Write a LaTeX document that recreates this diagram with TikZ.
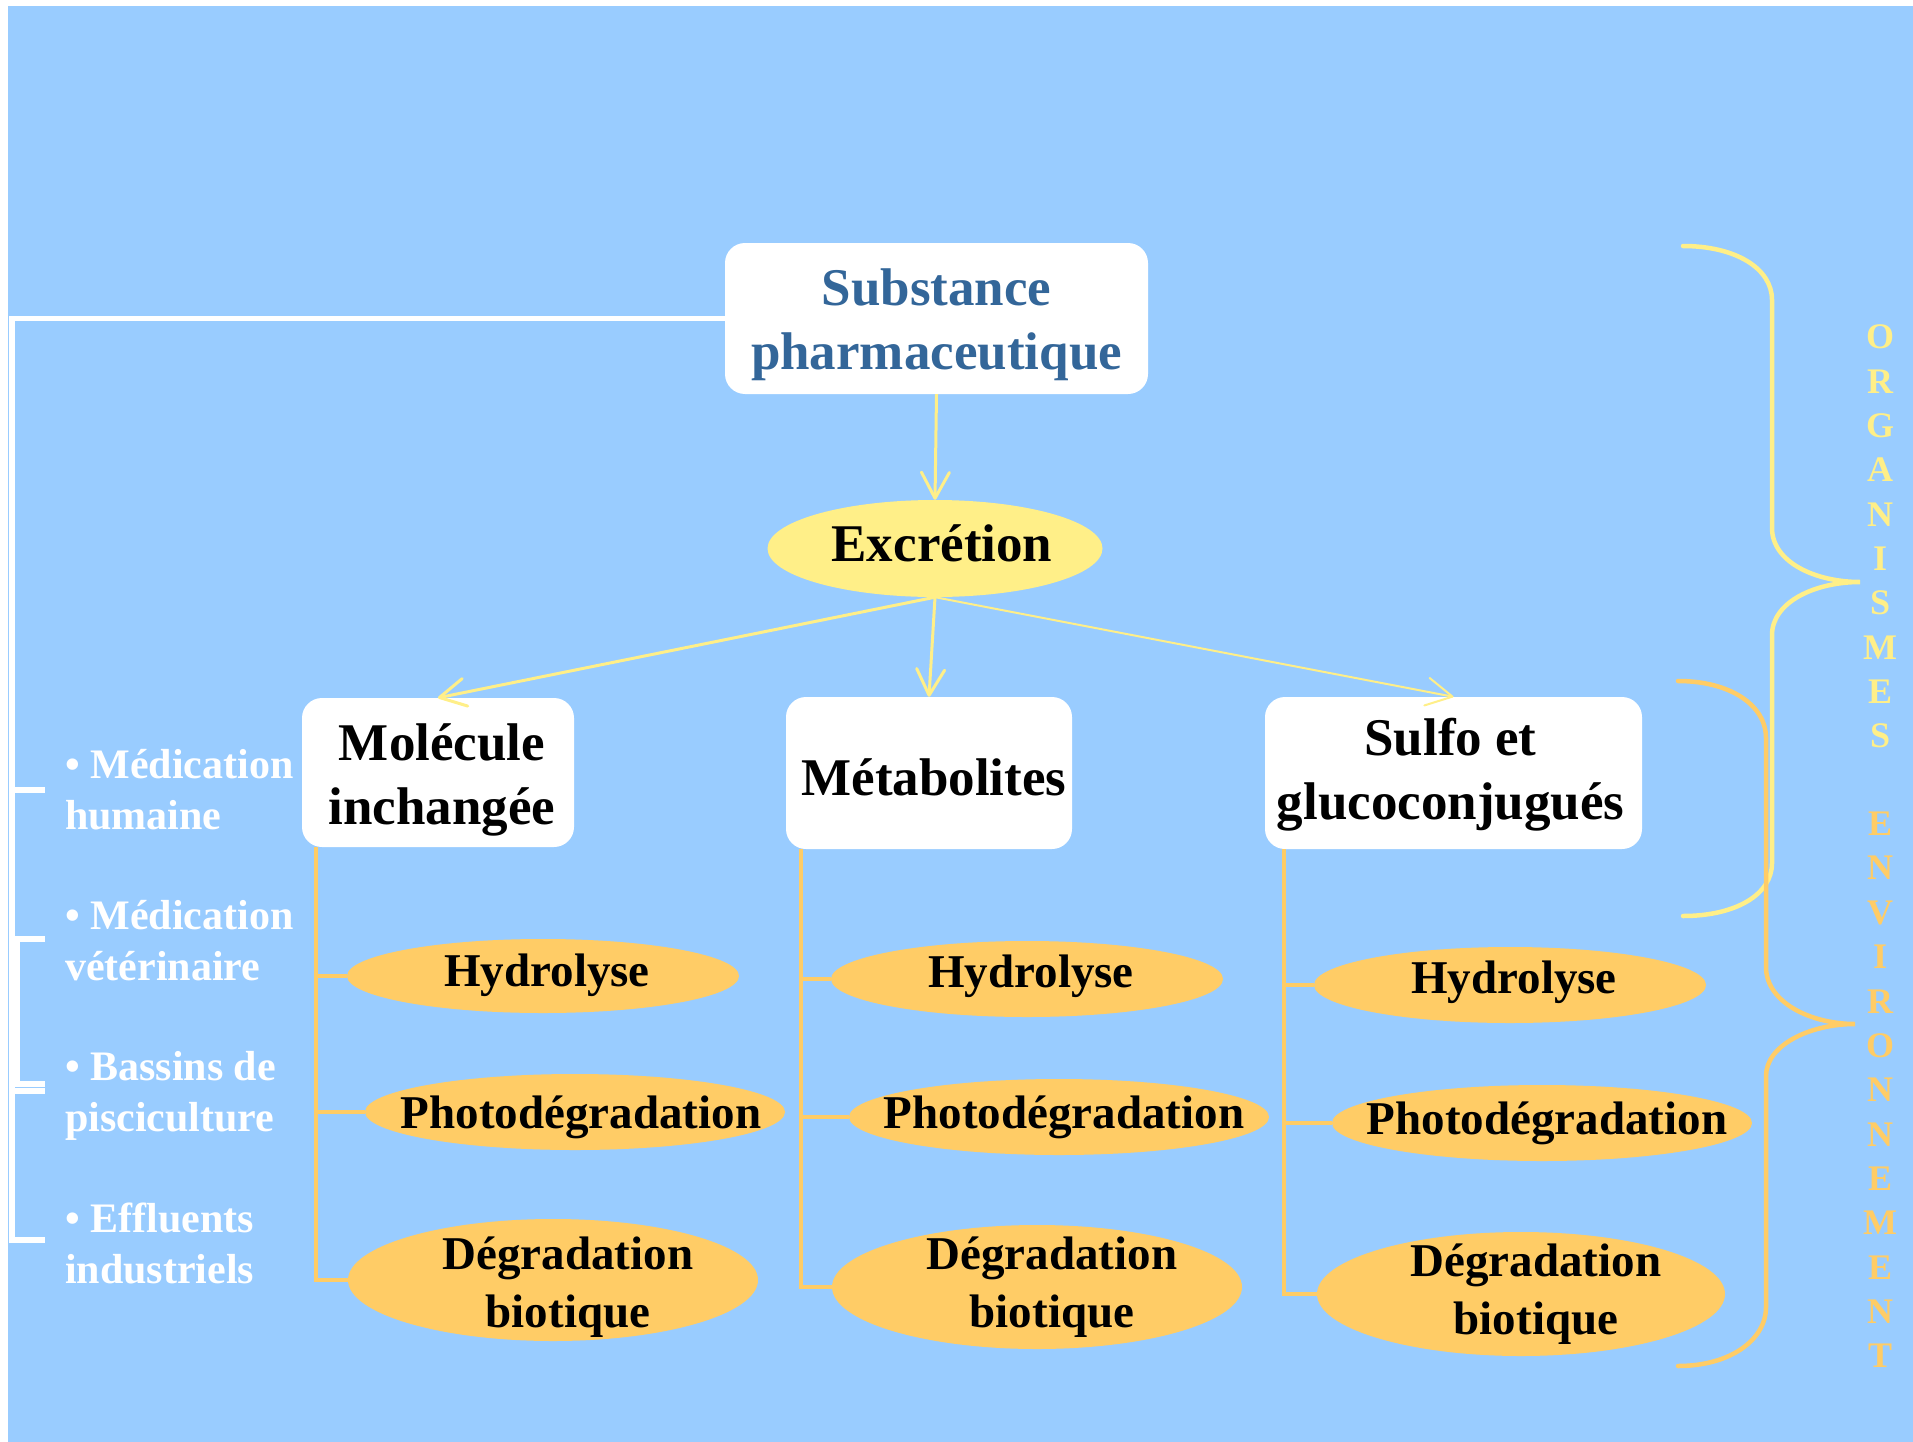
\documentclass[tikz,border=0pt]{standalone}
\usepackage{fontspec}
\setmainfont{Liberation Serif}
\usetikzlibrary{arrows.meta,shapes.geometric}
\definecolor{bgblue}{HTML}{99CCFF}
\definecolor{yel}{HTML}{FFEF88}
\definecolor{org}{HTML}{FFCC66}
\definecolor{subblue}{HTML}{336699}
\begin{document}
\begin{tikzpicture}[x=1pt,y=-1pt,
  box/.style={fill=white, rounded corners=20pt, inner sep=0pt},
  btxt/.style={align=center, inner sep=0pt, font=\bfseries\fontsize{53pt}{64pt}\selectfont},
  ell/.style={ellipse, fill=org, inner sep=0pt},
  etxt/.style={align=center, inner sep=0pt, font=\bfseries\fontsize{47pt}{58pt}\selectfont},
  arr/.style={draw=yel, line width=3pt, -{Straight Barb[length=26pt,width=28pt,round]}},
  olink/.style={draw=org, line width=4.5pt},
  wline/.style={draw=white, line width=5.5pt},
  ltxt/.style={anchor=west, align=left, text=white, inner sep=0pt, font=\bfseries\fontsize{42pt}{51pt}\selectfont},
  vl/.style={inner sep=0pt, font=\bfseries\fontsize{36pt}{40pt}\selectfont},
  brace/.style={line width=4.5pt, line cap=round},
]
\fill[white] (0,0) rectangle (1913,1442);
\fill[bgblue] (8,6) rectangle (1913,1442);
\useasboundingbox (0,0) rectangle (1913,1442);

% braces
\draw[yel, brace] (1683,246) .. controls (1735,246) and (1772,268) .. (1772,300) -- (1772,528)
  .. controls (1772,562) and (1815,582) .. (1860,582)
  .. controls (1815,582) and (1772,602) .. (1772,635) -- (1772,863)
  .. controls (1772,895) and (1735,916) .. (1683,916);
\draw[org, brace] (1678,681) .. controls (1730,681) and (1766,705) .. (1766,738) -- (1766,967)
  .. controls (1766,1002) and (1810,1024) .. (1855,1024)
  .. controls (1810,1024) and (1766,1045) .. (1766,1076) -- (1766,1307)
  .. controls (1766,1340) and (1730,1366) .. (1678,1366);

\foreach \ch [count=\k from 0] in {O,R,G,A,N,I,S,M,E,S}
  \node[vl, text=yel] (o\k) at (1880,{337+44.35*\k}) {\ch};
\foreach \ch [count=\k from 11] in {E,N,V,I,R,O,N,N,E,M,E,N,T}
  \node[vl, text=org] (e\k) at (1880,{336+44.35*\k}) {\ch};

% main nodes
\node[box, minimum width=423pt, minimum height=151pt] (sub) at (936.5,318.5) {};
\node[btxt, text=subblue] (subt) at ([yshift=-6pt]sub.center) {Substance\\pharmaceutique};
\node[ellipse, fill=yel, minimum width=335pt, minimum height=97pt, inner sep=0pt] (exc) at (935,548.5) {};
\node[btxt] (exct) at ([xshift=7pt,yshift=5pt]exc.center) {Excrétion};
\node[box, minimum width=272pt, minimum height=149pt] (mol) at (438,772.5) {};
\node[btxt] (molt) at ([xshift=4pt,yshift=-7pt]mol.center) {Molécule\\inchangée};
\node[box, minimum width=286pt, minimum height=152pt] (met) at (929,773) {};
\node[btxt] (mett) at ([xshift=5pt,yshift=-4pt]met.center) {Métabolites};
\node[box, minimum width=377pt, minimum height=152pt] (sul) at (1453.5,773) {};
\node[btxt] (sult) at ([xshift=-3pt,yshift=-2pt]sul.center) {Sulfo et\\glucoconjugués};

% left bracket
\draw[wline] (sub.west) -- (12,318.5) -- (12,1240) -- (45,1240);
\draw[wline] (12,790) -- (45,790);
\draw[wline] (45,939) -- (17,939) -- (17,1084) -- (45,1084);
\draw[wline] (12,1091) -- (45,1091);

\node[ltxt] (l1) at (65,789.5) {• Médication\\humaine};
\node[ltxt] (l2) at (65,940.5) {• Médication\\vétérinaire};
\node[ltxt] (l3) at (65,1096) {• Bassins de\\pisciculture};
\node[ltxt] (l4) at (65,1243.5) {• Effluents\\industriels};

% ellipses
\node[ell, minimum width=392pt, minimum height=74pt] (h1) at (543,976) {};
\node[ell, minimum width=420pt, minimum height=76pt] (p1) at (575,1112) {};
\node[ell, minimum width=410pt, minimum height=122pt] (d1) at (553,1280) {};
\node[ell, minimum width=392pt, minimum height=76pt] (h2) at (1027,979) {};
\node[ell, minimum width=420pt, minimum height=76pt] (p2) at (1059,1117) {};
\node[ell, minimum width=410pt, minimum height=124pt] (d2) at (1037,1287) {};
\node[ell, minimum width=392pt, minimum height=76pt] (h3) at (1510,985) {};
\node[ell, minimum width=420pt, minimum height=76pt] (p3) at (1542,1123) {};
\node[ell, minimum width=408pt, minimum height=124pt] (d3) at (1521,1294) {};

\node[etxt] (h1t) at ([xshift=4pt,yshift=1pt]h1.center) {Hydrolyse};
\node[etxt] (p1t) at ([xshift=6pt,yshift=-5pt]p1.center) {Photodégradation};
\node[etxt] (d1t) at ([xshift=15pt,yshift=-7pt]d1.center) {Dégradation\\biotique};
\foreach \c in {2,3}{
  \node[etxt] (h\c t) at ([xshift=4pt,yshift=3pt]h\c.center) {Hydrolyse};
  \node[etxt] (p\c t) at ([xshift=5pt]p\c.center) {Photodégradation};
  \node[etxt] (d\c t) at ([xshift=15pt]d\c.center) {Dégradation\\biotique};
}

% orange links
\draw[olink] ([xshift=14pt]mol.south west) |- (h1.west);
\draw[olink] ([xshift=14pt]mol.south west) |- (p1.west);
\draw[olink] ([xshift=14pt]mol.south west) |- (d1.west);
\draw[olink] ([xshift=15pt]met.south west) |- (h2.west);
\draw[olink] ([xshift=15pt]met.south west) |- (p2.west);
\draw[olink] ([xshift=15pt]met.south west) |- (d2.west);
\draw[olink] ([xshift=19pt]sul.south west) |- (h3.west);
\draw[olink] ([xshift=19pt]sul.south west) |- (p3.west);
\draw[olink] ([xshift=19pt]sul.south west) |- (d3.west);

% arrows
\draw[arr] (sub.south) -- (exc.north);
\draw[arr] (exc.south) -- (mol.north);
\draw[arr] (exc.south) -- (met.north);
\draw[arr, line width=2pt] (exc.south) -- (sul.north);
\end{tikzpicture}
\end{document}
